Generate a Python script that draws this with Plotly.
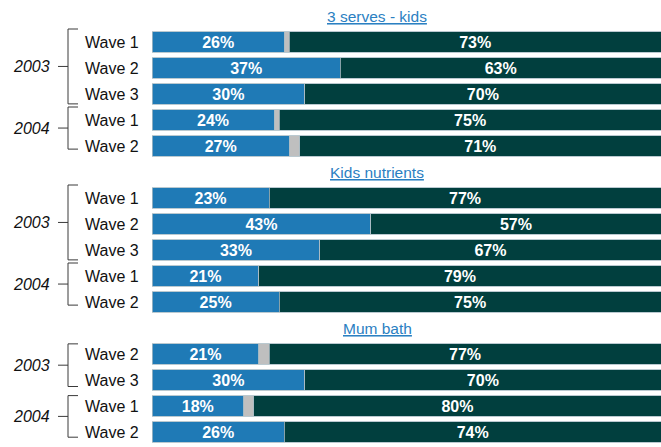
import plotly.graph_objects as go

# ---- data -------------------------------------------------------------
panel_titles = ["3 serves - kids", "Kids nutrients", "Mum bath"]
row_panel = [0, 0, 0, 0, 0, 1, 1, 1, 1, 1, 2, 2, 2, 2]
row_year = ["2003", "2003", "2003", "2004", "2004",
            "2003", "2003", "2003", "2004", "2004",
            "2003", "2003", "2004", "2004"]
row_wave = ["Wave 1", "Wave 2", "Wave 3", "Wave 1", "Wave 2",
            "Wave 1", "Wave 2", "Wave 3", "Wave 1", "Wave 2",
            "Wave 2", "Wave 3", "Wave 1", "Wave 2"]
yes_pct = [26, 37, 30, 24, 27, 23, 43, 33, 21, 25, 21, 30, 18, 26]
unsure_pct = [1, 0, 0, 1, 2, 0, 0, 0, 0, 0, 2, 0, 2, 0]
no_pct = [73, 63, 70, 75, 71, 77, 57, 67, 79, 75, 77, 70, 80, 74]

# ---- style ------------------------------------------------------------
W, H = 661, 447
ML, MR, MT, MB = 152, 0, 3, 2
BLUE, GREY, DARK = "#1f7ab6", "#bfbfbf", "#013f3e"
LINK = "#2b80c2"
FONT = "Liberation Sans, Arial, sans-serif"
# bracket padding (top, bottom) for each year group, in row units
bracket_pad = [(-0.5, 0.38), (-0.5, 0.12), (-0.5, 0.38), (-0.5, 0.12),
               (-0.39, 0.25), (-0.4, 0.2)]


def px_to_paper(px):
    return (px - ML) / (W - ML - MR)


# ---- row slots: each panel gets a title slot above its rows -------------
slots, title_slots = [], []
pos, prev = 0, None
for p in row_panel:
    if p != prev:
        title_slots.append(pos)
        pos += 1
        prev = p
    slots.append(pos)
    pos += 1
n_slots = pos

fig = go.Figure()
bar_kw = dict(orientation="h", width=0.78, textposition="inside",
              insidetextanchor="middle", textangle=0, constraintext="none",
              textfont=dict(family=FONT, size=16, color="white", weight="bold"),
              hoverinfo="skip")
line = dict(color="#a9bcc4", width=0.8)
fig.add_trace(go.Bar(x=yes_pct, y=slots, marker=dict(color=BLUE, line=line),
                     text=[f"{v}%" for v in yes_pct], **bar_kw))
fig.add_trace(go.Bar(x=unsure_pct, y=slots, marker=dict(color=GREY, line=line),
                     text=["" for _ in unsure_pct], **bar_kw))
fig.add_trace(go.Bar(x=no_pct, y=slots, marker=dict(color=DARK, line=line),
                     text=[f"{v}%" for v in no_pct], **bar_kw))

annotations, shapes = [], []

# panel titles
for t, s in zip(panel_titles, title_slots):
    annotations.append(dict(x=px_to_paper(377), xref="paper", y=s, yref="y",
                            text=f"<u>{t}</u>", showarrow=False,
                            xanchor="center", yanchor="middle",
                            font=dict(family=FONT, size=15.5, color=LINK)))

# wave labels
for w, s in zip(row_wave, slots):
    annotations.append(dict(x=px_to_paper(141), xref="paper", y=s, yref="y",
                            text=w, showarrow=False, xanchor="right",
                            yanchor="middle",
                            font=dict(family=FONT, size=16, color="#111111")))

# year brackets
groups = []
for i, (p, yr) in enumerate(zip(row_panel, row_year)):
    if groups and groups[-1][0] == p and groups[-1][1] == yr:
        groups[-1][3] = slots[i]
    else:
        groups.append([p, yr, slots[i], slots[i]])

xv, xt, xl = px_to_paper(68), px_to_paper(78), px_to_paper(58)
for (p, yr, s0, s1), (pt, pb) in zip(groups, bracket_pad):
    top, bot = s0 + pt, s1 + pb
    mid = (top + bot) / 2
    shapes.append(dict(type="path", xref="paper", yref="y",
                       path=f"M {xt},{top} L {xv},{top} L {xv},{bot} L {xt},{bot}",
                       line=dict(color="#3a3a3a", width=1)))
    shapes.append(dict(type="line", xref="paper", yref="y", x0=xl, x1=xv,
                       y0=mid, y1=mid, line=dict(color="#3a3a3a", width=1)))
    annotations.append(dict(x=px_to_paper(52), xref="paper", y=mid, yref="y",
                            text=f"<i>{yr}</i>", showarrow=False,
                            xanchor="right", yanchor="middle",
                            font=dict(family=FONT, size=16, color="#111111")))

fig.update_layout(
    width=W, height=H, barmode="stack", showlegend=False,
    margin=dict(l=ML, r=MR, t=MT, b=MB, pad=0),
    paper_bgcolor="white", plot_bgcolor="white",
    xaxis=dict(range=[0, 100], visible=False, fixedrange=True),
    yaxis=dict(range=[n_slots - 0.5, -0.5], visible=False, fixedrange=True),
    annotations=annotations, shapes=shapes,
)

fig.write_html("out.html", config=dict(displayModeBar=False))
